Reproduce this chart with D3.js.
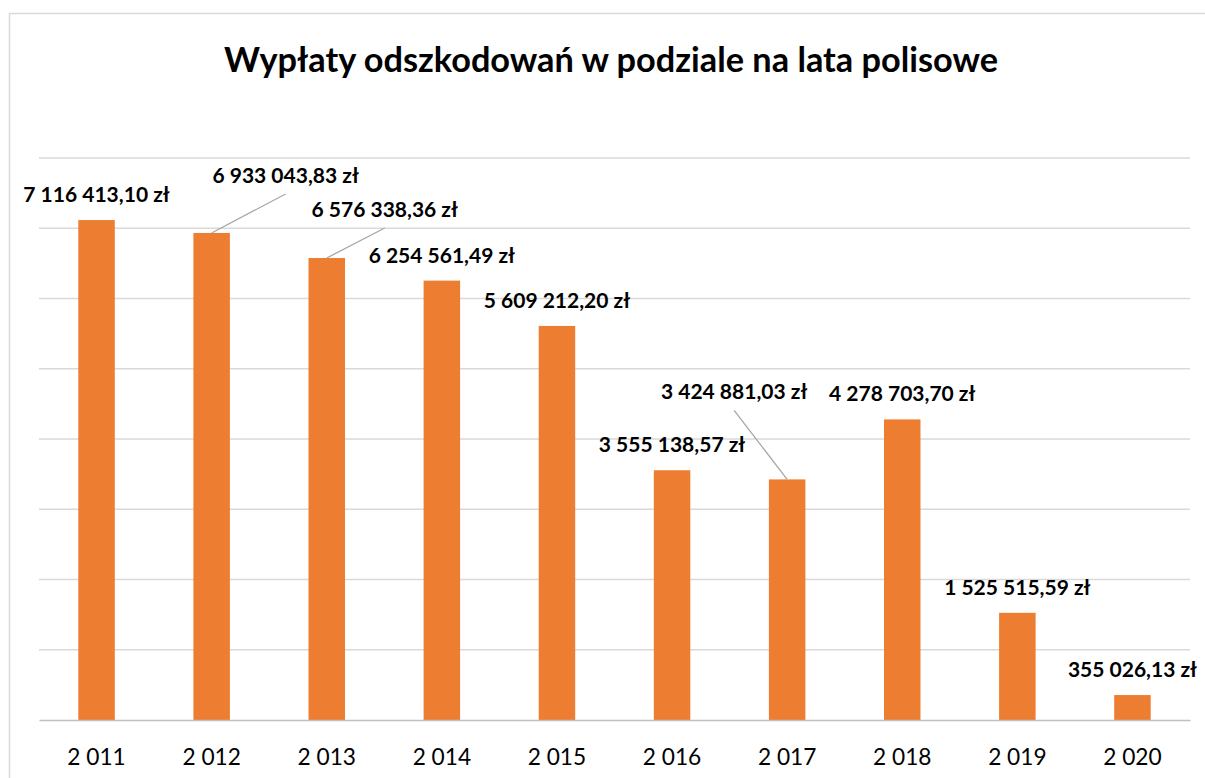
<!DOCTYPE html>
<html>
<head>
<meta charset="utf-8">
<script src="https://cdn.jsdelivr.net/npm/d3@7"></script>
<style>
  body { margin: 0; background: #fff; }
  svg { display: block; font-family: Lato, "Open Sans", sans-serif; }
  .axis text { font-size: 22.7px; fill: #000; }
  .axis path { stroke: #bfbfbf; stroke-width: 1.5; }
  .label { font-size: 21px; font-weight: bold; fill: #000; }
</style>
</head>
<body>
<svg id="chart"></svg>
<script>
// data
var years = [2011, 2012, 2013, 2014, 2015, 2016, 2017, 2018, 2019, 2020];
var payouts = [7116413.10, 6933043.83, 6576338.36, 6254561.49, 5609212.20,
               3555138.57, 3424881.03, 4278703.70, 1525515.59, 355026.13];
var gridValues = [1000000, 2000000, 3000000, 4000000, 5000000, 6000000, 7000000, 8000000];

// labels that were dragged away from their bar (dx, dy in px)
var labelMoves = [[0, 0], [74, -32], [58, -23], [0, 0], [0, 0],
                  [0, 0], [-53, -62], [0, 0], [0, 0], [0, 0]];

var width = 1205, height = 778;
var margin = { top: 158, bottom: 720, left: 39, right: 1190 };

var pl = d3.formatLocale({ decimal: ",", thousands: " ", grouping: [3], currency: ["", " zł"] });
var fmtMoney = pl.format("$,.2f");
var fmtYear = pl.format(",d");

var svg = d3.select("#chart")
  .attr("width", width)
  .attr("height", height);

// chart frame
svg.append("rect")
  .attr("x", 9.5).attr("y", 13.5)
  .attr("width", 1230).attr("height", 800)
  .attr("fill", "none")
  .attr("stroke", "#d9d9d9")
  .attr("stroke-width", 1.5);

svg.append("text")
  .attr("x", 611).attr("y", 72)
  .attr("text-anchor", "middle")
  .style("font-size", "34.3px")
  .style("font-weight", "bold")
  .text("Wypłaty odszkodowań w podziale na lata polisowe");

var x = d3.scaleBand()
  .domain(years)
  .range([margin.left, margin.right])
  .paddingInner(0.683)
  .paddingOuter(0.3415);

var y = d3.scaleLinear()
  .domain([0, 8000000])
  .range([margin.bottom, margin.top]);

// gridlines
svg.append("g")
  .selectAll("line")
  .data(gridValues)
  .enter()
  .append("line")
  .attr("x1", margin.left).attr("x2", margin.right)
  .attr("y1", function(d){ return y(d); })
  .attr("y2", function(d){ return y(d); })
  .attr("stroke", "#d9d9d9")
  .attr("stroke-width", 1.5);

// bars
svg.append("g")
  .selectAll("rect")
  .data(payouts)
  .enter()
  .append("rect")
  .attr("x", function(d, i){ return x(years[i]); })
  .attr("y", function(d){ return y(d); })
  .attr("width", x.bandwidth())
  .attr("height", function(d){ return y(0) - y(d); })
  .attr("fill", "#ed7d31");

// x axis
var xaxis = d3.axisBottom(x)
  .tickSize(0)
  .tickSizeOuter(0)
  .tickPadding(29)
  .tickFormat(fmtYear);

svg.append("g")
  .attr("class", "axis")
  .attr("transform", "translate(0," + y(0) + ")")
  .call(xaxis)
  .call(function(g){ g.attr("font-family", null).attr("font-size", null); });

// data labels
function cx(i){ return x(years[i]) + x.bandwidth() / 2; }
function lx(i){ return cx(i) + labelMoves[i][0]; }
function ly(i){ return y(payouts[i]) - 18 + labelMoves[i][1]; }

var moved = d3.range(years.length).filter(function(i){
  return labelMoves[i][0] !== 0 || labelMoves[i][1] !== 0;
});

// leader lines
svg.append("g")
  .selectAll("line")
  .data(moved)
  .enter()
  .append("line")
  .attr("x1", function(i){ return lx(i); })
  .attr("y1", function(i){ return ly(i) + 11; })
  .attr("x2", function(i){ return cx(i); })
  .attr("y2", function(i){ return y(payouts[i]); })
  .attr("stroke", "#a6a6a6")
  .attr("stroke-width", 1.3);

svg.append("g")
  .selectAll("text")
  .data(payouts)
  .enter()
  .append("text")
  .attr("class", "label")
  .attr("x", function(d, i){ return lx(i); })
  .attr("y", function(d, i){ return ly(i); })
  .attr("text-anchor", "middle")
  .text(function(d){ return fmtMoney(d); });
</script>
</body>
</html>
